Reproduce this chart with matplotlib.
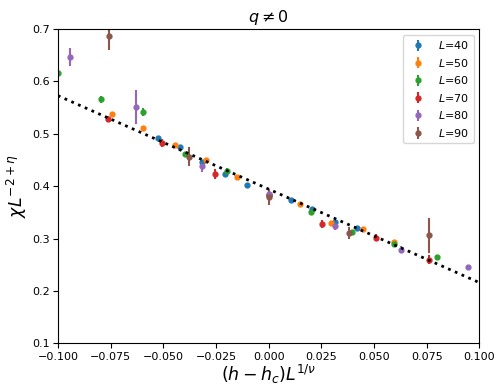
import numpy as np
import matplotlib
matplotlib.use("Agg")
import matplotlib.pyplot as plt

# scaled data, one block per system size
x40 = [-0.0524, -0.0419, -0.0315, -0.0209, -0.0103, 0.0, 0.0105, 0.0208, 0.0316, 0.0418]
y40 = [0.493, 0.474, 0.447, 0.423, 0.403, 0.383, 0.374, 0.356, 0.331, 0.320]
e40 = [0.003] * 10

x50 = [-0.0744, -0.0595, -0.0446, -0.0298, -0.0149, 0.0, 0.0150, 0.0298, 0.0447, 0.0596]
y50 = [0.538, 0.512, 0.479, 0.451, 0.418, 0.383, 0.367, 0.330, 0.319, 0.293]
e50 = [0.003] * 10

x60 = [-0.1, -0.0796, -0.0597, -0.0397, -0.0198, 0.0, 0.0199, 0.0398, 0.0597, 0.0798]
y60 = [0.617, 0.566, 0.542, 0.461, 0.430, 0.383, 0.350, 0.312, 0.289, 0.264]
e60 = [0.007, 0.007, 0.008, 0.005, 0.005, 0.005, 0.004, 0.004, 0.003, 0.003]

x70 = [-0.0763, -0.0508, -0.0255, 0.0, 0.0254, 0.0509, 0.0763]
y70 = [0.528, 0.482, 0.423, 0.383, 0.328, 0.302, 0.260]
e70 = [0.006, 0.008, 0.010, 0.008, 0.008, 0.007, 0.009]

x80 = [-0.0941, -0.0628, -0.0314, 0.0, 0.0316, 0.0629, 0.0944]
y80 = [0.647, 0.551, 0.438, 0.385, 0.324, 0.279, 0.245]
e80 = [0.017, 0.033, 0.010, 0.010, 0.007, 0.006, 0.005]

x90 = [-0.0758, -0.0379, 0.0, 0.0380, 0.0760]
y90 = [0.686, 0.456, 0.379, 0.311, 0.306]
e90 = [0.025, 0.018, 0.014, 0.012, 0.034]

sizes = [40, 50, 60, 70, 80, 90]
xs = [x40, x50, x60, x70, x80, x90]
ys = [y40, y50, y60, y70, y80, y90]
es = [e40, e50, e60, e70, e80, e90]

# linear fit guide
fit_x = [-0.1, 0.1]
fit_y = [0.573, 0.216]

fig, ax = plt.subplots(figsize=(5.03, 3.88), dpi=100)
for L, x, y, e in zip(sizes, xs, ys, es):
    ax.errorbar(x, y, yerr=e, fmt='o', markersize=3.5, elinewidth=1.5,
                label=r'$L$=%d' % L)
ax.plot(fit_x, fit_y, ':', color='k', linewidth=2, zorder=5)

ax.set_xlim(-0.1, 0.1)
ax.set_ylim(0.1, 0.7)
ax.tick_params(labelsize=8, pad=2.5)
ax.set_title(r'$q \neq 0$', fontsize=11.5, pad=5)
ax.set_xlabel(r'$(h-h_c)L^{1/\nu}$', fontsize=12.5, labelpad=1)
ax.set_ylabel(r'$\chi L^{-2+\eta}$', fontsize=12.5, labelpad=2)
ax.legend(fontsize=8, loc='upper right')
plt.subplots_adjust(left=0.115, right=0.953, top=0.925, bottom=0.115)
plt.savefig("out.png", dpi=100)
